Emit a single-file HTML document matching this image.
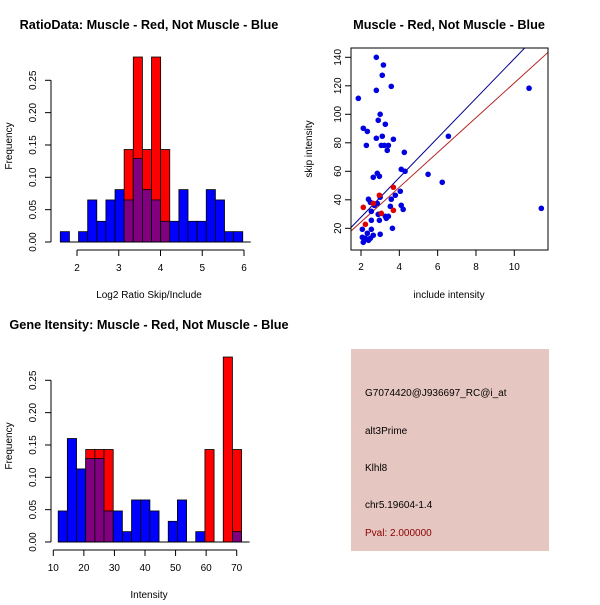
<!DOCTYPE html>
<html><head><meta charset="utf-8"><style>
body{margin:0;background:#fff}
svg text{font-family:"Liberation Sans",sans-serif}
</style></head><body>
<svg id="c" width="600" height="600" xmlns="http://www.w3.org/2000/svg">
<rect x="0" y="0" width="600" height="600" fill="#fff"/>
<text x="149" y="29" font-size="12.7" font-weight="bold" text-anchor="middle">RatioData: Muscle - Red, Not Muscle - Blue</text>
<text x="449" y="29" font-size="12.7" font-weight="bold" text-anchor="middle">Muscle - Red, Not Muscle - Blue</text>
<text x="149" y="329" font-size="12.7" font-weight="bold" text-anchor="middle">Gene Itensity: Muscle - Red, Not Muscle - Blue</text>
<text x="149" y="298" font-size="10" text-anchor="middle">Log2 Ratio Skip/Include</text>
<text x="149" y="598" font-size="10" text-anchor="middle">Intensity</text>
<text x="449" y="298" font-size="10" text-anchor="middle">include intensity</text>
<text transform="translate(12,146) rotate(-90)" font-size="10" text-anchor="middle">Frequency</text>
<text transform="translate(12,446) rotate(-90)" font-size="10" text-anchor="middle">Frequency</text>
<text transform="translate(312,149) rotate(-90)" font-size="10" text-anchor="middle">skip intensity</text>
<g>
<rect x="351" y="349" width="198" height="202" fill="#e6c6c0"/>
<text x="365" y="396" font-size="10">G7074420@J936697_RC@i_at</text>
<text x="365" y="434" font-size="10">alt3Prime</text>
<text x="365" y="471" font-size="10">Klhl8</text>
<text x="365" y="508" font-size="10">chr5.19604-1.4</text>
<text x="365" y="536" font-size="10" fill="#8b0000">Pval: 2.000000</text>
</g>
</svg>
<script>
// Histogram 1 data
const ratioBinStart = 1.6, ratioBinWidth = 0.2185;
const ratioBlue = [0.016,0,0.016,0.065,0.032,0.065,0.081,0.065,0.129,0.081,0.065,0.032,0.032,0.081,0.032,0.032,0.081,0.065,0.016,0.016];
const ratioRed  = [0,0,0,0,0,0,0,0.143,0.286,0.143,0.286,0.143,0,0,0,0,0,0,0,0];
const ratioXTicks = [2,3,4,5,6];
const freqTicks = ["0.00","0.05","0.10","0.15","0.20","0.25"];
// Histogram 2 data
const intBinStart = 11.6, intBinWidth = 3.0;
const intBlue = [0.048,0.16,0.113,0.129,0.129,0.048,0.048,0.016,0.065,0.065,0.048,0,0.032,0.065,0,0.016,0,0,0,0.016];
const intRed  = [0,0,0,0.143,0.143,0.143,0,0,0,0,0,0,0,0,0,0,0.143,0,0.286,0.143];
const intXTicks = [10,20,30,40,50,60,70];
// Scatter data
const blueX = [1.86,2.8,3.17,3.11,3.58,2.8,2.12,2.33,3.0,2.9,3.27,2.28,2.8,3.11,3.69,3.06,3.22,3.43,3.37,4.26,4.1,4.3,2.85,2.96,2.64,5.5,6.24,6.56,10.77,11.41,4.05,3.79,3.58,3.0,2.39,2.49,2.85,2.7,3.53,4.1,4.2,2.54,2.9,3.27,3.43,3.32,2.54,2.96,3.64,2.07,2.54,2.33,3.0,2.64,2.07,2.49,2.39,2.12,2.23];
const blueY = [111.2,140,134.6,127.4,119.6,116.8,90.2,88,100,95.8,93,78.2,83.2,84.6,82.5,78.2,78.2,78.2,74.7,73.3,61.4,60,58.6,56.5,55.8,57.9,52.3,84.6,118.3,34,46,43.2,40.4,41.8,40.4,38.2,37.5,36.1,35.4,36.1,33.3,31.9,29.8,28.4,28.4,27,25.6,25.6,20,19.3,19.3,16.5,15.8,15.1,13.7,13,11.6,10.2,13];
const redX = [2.12,2.23,2.96,3.69,3.69,3.06,2.64];
const redY = [34.7,22.8,43.2,48.8,32.6,30.5,37.5];
const blueSlope = 13.9, redSlope = 12.2;
const scXTicks = [2,4,6,8,10];
const scYTicks = [20,40,60,80,100,120,140];

const NS="http://www.w3.org/2000/svg", svg=document.getElementById('c');
function mk(tag,attrs,parent){const e=document.createElementNS(NS,tag);for(const k in attrs)e.setAttribute(k,attrs[k]);(parent||svg).appendChild(e);return e;}

function hist(name,x0px,x1px,xv0,xv1,y0px,yTopPx,yTopVal,binStart,binW,blue,red,xticks){
  const g=mk('g',{});
  
  
  const sx=v=>x0px+(v-xv0)*(x1px-x0px)/(xv1-xv0);
  const sy=v=>y0px-v*(y0px-yTopPx)/yTopVal;
  for(let i=0;i<blue.length;i++){
    const a=sx(binStart+i*binW), b=sx(binStart+(i+1)*binW);
    const bv=blue[i], rv=red[i];
    const mx=Math.max(bv,rv), mn=Math.min(bv,rv);
    if(mx>0){
      const r=mk('rect',{x:a,y:sy(mx),width:b-a,height:sy(0)-sy(mx),fill:rv>bv?'#ff0000':'#0000ff',stroke:'#000','stroke-width':0.8},g);
      
      
    }
    if(mn>0){
      const p=mk('rect',{x:a,y:sy(mn),width:b-a,height:sy(0)-sy(mn),fill:'#800080',stroke:'#000','stroke-width':0.8},g);
      
      
    }
  }
  mk('line',{x1:sx(binStart),x2:sx(binStart+blue.length*binW)+8,y1:y0px,y2:y0px,stroke:'#000'},g);
  const yax=mk('g',{},g);
  
  
  mk('line',{x1:51,x2:51,y1:sy(0),y2:sy(0.25),stroke:'#000'},yax);
  freqTicks.forEach(t=>{const v=parseFloat(t),y=sy(v);
    mk('line',{x1:45,x2:51,y1:y,y2:y,stroke:'#000'},yax);
    const tx=mk('text',{transform:`translate(36,${y}) rotate(-90)`,'font-size':10,'text-anchor':'middle'},yax);tx.textContent=t;});
  const xax=mk('g',{},g);
  
  
  const ay=y0px+8;
  mk('line',{x1:sx(xticks[0]),x2:sx(xticks[xticks.length-1]),y1:ay,y2:ay,stroke:'#000'},xax);
  xticks.forEach(t=>{const x=sx(t);mk('line',{x1:x,x2:x,y1:ay,y2:ay+6,stroke:'#000'},xax);
    const tx=mk('text',{x:x,y:ay+21,'font-size':10,'text-anchor':'middle'},xax);tx.textContent=t;});
}
hist('ratio-histogram',77,244,2,6,242,80.3,0.25,ratioBinStart,ratioBinWidth,ratioBlue,ratioRed,ratioXTicks);
hist('intensity-histogram',53.3,236.7,10,70,542,380.3,0.25,intBinStart,intBinWidth,intBlue,intRed,intXTicks);

(function(){
  const g=mk('g',{});
  
  
  const sx=v=>361+(v-2)*(514.3-361)/8;
  const sy=v=>228.3-(v-20)*(228.3-57.3)/120;
  const L=351,R=548,T=48,B=250;
  const cp=mk('clipPath',{id:'scClip'},g);mk('rect',{x:L,y:T,width:R-L,height:B-T},cp);
  const lines=mk('g',{'clip-path':'url(#scClip)'},g);
  const xa=1.3,xb=12;
  const bl=mk('line',{x1:sx(xa),y1:sy(blueSlope*xa),x2:sx(xb),y2:sy(blueSlope*xb),stroke:'#00008b','stroke-width':1},lines);
  
  
  const rl=mk('line',{x1:sx(xa),y1:sy(redSlope*xa),x2:sx(xb),y2:sy(redSlope*xb),stroke:'#b22222','stroke-width':1},lines);
  
  
  blueX.forEach((x,i)=>{const c=mk('circle',{cx:sx(x),cy:sy(blueY[i]),r:2.8,fill:'#0000e0'},g);
    
    });
  redX.forEach((x,i)=>{const c=mk('circle',{cx:sx(x),cy:sy(redY[i]),r:2.8,fill:'#e00000'},g);
    
    });
  mk('rect',{x:L,y:T,width:R-L,height:B-T,fill:'none',stroke:'#000'},g);
  scXTicks.forEach(t=>{const x=sx(t);mk('line',{x1:x,x2:x,y1:B,y2:B+6,stroke:'#000'},g);
    const tx=mk('text',{x:x,y:B+20,'font-size':10,'text-anchor':'middle'},g);tx.textContent=t;});
  scYTicks.forEach(t=>{const y=sy(t);mk('line',{x1:L-6,x2:L,y1:y,y2:y,stroke:'#000'},g);
    const tx=mk('text',{transform:`translate(${L-10},${y}) rotate(-90)`,'font-size':10,'text-anchor':'middle'},g);tx.textContent=t;});
})();
</script>
</body></html>
